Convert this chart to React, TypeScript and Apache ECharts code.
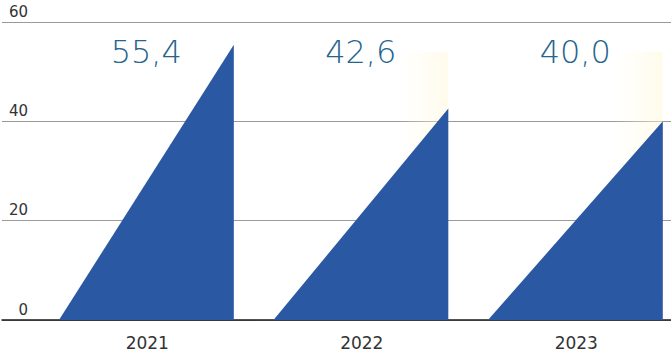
import React, { useEffect, useRef } from "react";
import * as echarts from "echarts";

const years = ["2021", "2022", "2023"];
const values = [55.4, 42.6, 40.0];
const yTicks = [0, 20, 40, 60];

const FONT = "DejaVu Sans";

export default function App() {
  const ref = useRef<HTMLDivElement>(null);

  useEffect(() => {
    if (!ref.current) return;
    const chart = echarts.init(ref.current, null, { renderer: "svg" });
    const labelLevel = 54;
    // grid 1 spans x=40..671; one category step is ~214.5px
    const step = 214.5;
    const xMin = -0.5;
    const xMax = xMin + 631 / step;
    const option: any = {
      animation: false,
      backgroundColor: "#ffffff",
      grid: [
        { left: 2, right: 0, top: 22, bottom: 35 },
        { left: 40, right: 0, top: 22, bottom: 35 },
      ],
      xAxis: [
        {
          gridIndex: 0,
          type: "value",
          min: 0,
          max: 1,
          axisLine: { show: true, lineStyle: { color: "#1a1a1a", width: 1.5 } },
          axisTick: { show: false },
          axisLabel: { show: false },
          splitLine: { show: false },
        },
        {
          gridIndex: 1,
          type: "value",
          min: xMin,
          max: xMax,
          axisLine: { show: false },
          axisTick: { show: false },
          axisLabel: {
            customValues: years.map((_, i) => i),
            formatter: (v: number) => years[Math.round(v)] ?? "",
            color: "#333333",
            fontFamily: FONT,
            fontSize: 17,
            margin: 14,
          },
          splitLine: { show: false },
        },
      ],
      yAxis: [
        {
          gridIndex: 0,
          type: "value",
          min: yTicks[0],
          max: yTicks[yTicks.length - 1],
          interval: 20,
          axisLine: { show: false },
          axisTick: { show: false },
          axisLabel: {
            inside: true,
            align: "right",
            margin: 26,
            verticalAlign: "bottom",
            padding: [0, 0, 3, 0],
            color: "#333333",
            fontFamily: FONT,
            fontSize: 15,
          },
          splitLine: { show: true, lineStyle: { color: "#9a9a9a", width: 1 } },
        },
        {
          gridIndex: 1,
          type: "value",
          min: yTicks[0],
          max: yTicks[yTicks.length - 1],
          show: false,
        },
      ],
      series: [
        {
          type: "custom",
          xAxisIndex: 1,
          yAxisIndex: 1,
          clip: false,
          data: values.map((v, i) => [i, v]),
          renderItem: (params: any, api: any) => {
            const idx = api.value(0);
            const val = api.value(1);
            const base = api.coord([idx, 0]);
            const top = api.coord([idx, val]);
            const band = api.size([1, 0])[0];
            const w = band * 0.815;
            const x1 = base[0] + band * 0.4035;
            const x0 = x1 - w;
            const yLab = api.coord([idx, labelLevel])[1];
            const glowW = 50;
            const gx = x1 - glowW;
            const t = (gx - x0) / (x1 - x0);
            const gyHyp = base[1] + (top[1] - base[1]) * t;
            const children: any[] = [];
            if (top[1] > yLab) {
              children.push({
                type: "polygon",
                shape: {
                  points: [
                    [gx, yLab],
                    [x1, yLab],
                    [x1, top[1]],
                    [gx, gyHyp],
                  ],
                },
                style: {
                  fill: new echarts.graphic.LinearGradient(0, 0, 1, 0, [
                    { offset: 0, color: "rgba(255,250,225,0)" },
                    { offset: 1, color: "rgba(255,249,220,0.55)" },
                  ]),
                },
              });
            }
            children.push({
              type: "polygon",
              shape: {
                points: [
                  [x0, base[1]],
                  [x1, base[1]],
                  [x1, top[1]],
                ],
              },
              style: { fill: "#2b58a3" },
            });
            children.push({
              type: "text",
              style: {
                text: val.toFixed(1).replace(".", ","),
                x: base[0] - 1,
                y: yLab,
                align: "center",
                verticalAlign: "middle",
                fontFamily: FONT,
                fontSize: 32,
                fontWeight: 300,
                fill: "#26648e",
              },
            });
            return { type: "group", children };
          },
        },
      ],
    };
    chart.setOption(option);
    return () => chart.dispose();
  }, []);

  return (
    <div
      ref={ref}
      style={{ position: "absolute", left: 0, top: 0, width: 671, height: 355 }}
    />
  );
}
